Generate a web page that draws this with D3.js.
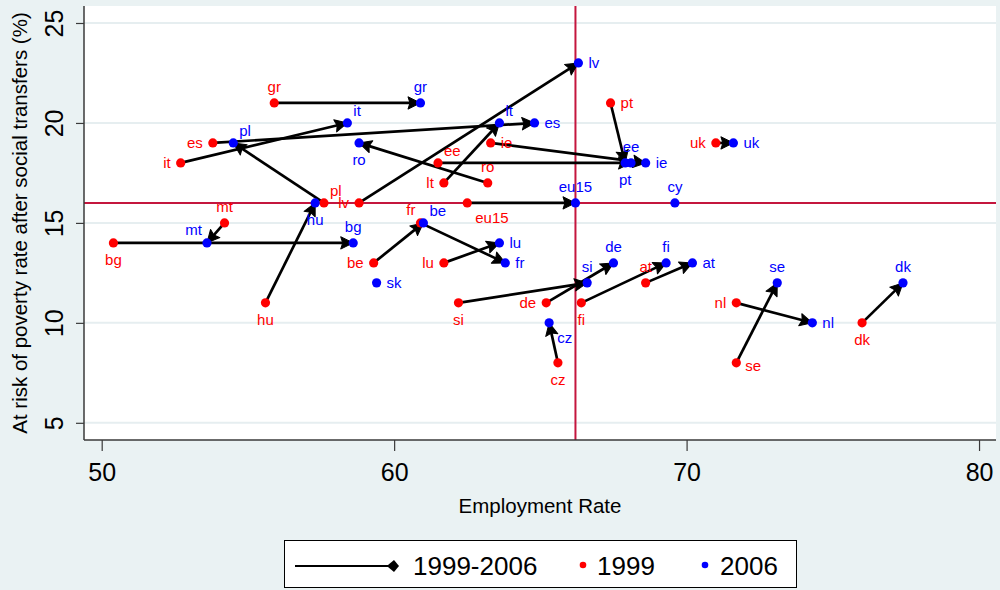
<!DOCTYPE html>
<html>
<head>
<meta charset="utf-8">
<script src="https://cdn.jsdelivr.net/npm/d3@7"></script>
<style>
  body { margin: 0; background: #eaf2f3; }
  svg { display: block; font-family: "Liberation Sans", Arial, sans-serif; }
</style>
</head>
<body>
<svg id="chart" width="1000" height="590"></svg>
<script>
// Country codes and values (employment rate, at-risk-of-poverty rate)
const countries = ["gr", "it", "es", "pl", "lv", "lt", "ro", "ee", "pt", "ie", "eu15", "cy", "hu", "mt",
  "bg", "sk", "be", "fr", "lu", "si", "de", "fi", "at", "cz", "uk", "nl", "se", "dk"];
const emp1999 = [55.9, 52.7, 53.8, 57.6, 58.8, 61.7, 63.2, 61.5, 67.4, 63.3, 62.5, null, 55.6, 54.2,
  50.4, null, 59.3, 60.9, 61.7, 62.2, 65.2, 66.4, 68.6, 65.6, 71.0, 71.7, 71.7, 76.0];
const pov1999 = [21, 18, 19, 16, 16, 17, 17, 18, 21, 19, 16, null, 11, 15,
  14, null, 13, 15, 13, 11, 11, 11, 12, 8, 19, 11, 8, 10];
const emp2006 = [60.9, 58.4, 64.8, 54.5, 66.3, 63.6, 58.8, 68.1, 67.9, 68.6, 66.2, 69.6, 57.3, 53.6,
  58.6, 59.4, 61.0, 63.8, 63.6, 66.6, 67.5, 69.3, 70.2, 65.3, 71.6, 74.3, 73.1, 77.4];
const pov2006 = [21, 20, 20, 19, 23, 20, 19, 18, 18, 18, 16, 16, 16, 14,
  14, 12, 15, 13, 14, 12, 13, 13, 13, 10, 19, 10, 12, 12];

// reference lines (EU15 2006)
const refEmp = 66.2;
const refPov = 16;

const xTicks = [50, 60, 70, 80];
const yTicks = [5, 10, 15, 20, 25];
const legendLabels = ["1999-2006", "1999", "2006"];

// label clock positions (Stata style)
const labelPos1999 = {gr: 12, it: 9, es: 9, pl: 1, lv: 9, lt: 9, ro: 12, ee: 1, pt: 3, ie: 3, eu15: 5,
  hu: 6, mt: 12, bg: 6, be: 9, fr: 11, lu: 9, si: 6, de: 9, fi: 6, at: 12, cz: 6, uk: 9, nl: 9, se: 4, dk: 6};
const labelPos2006 = {gr: 12, it: 1, es: 3, pl: 1, lv: 3, lt: 1, ro: 6, ee: 12, pt: 6, ie: 3, eu15: 12,
  cy: 12, hu: 6, mt: 11, bg: 12, sk: 3, be: 1, fr: 3, lu: 3, si: 12, de: 12, fi: 12, at: 3, cz: 5,
  uk: 3, nl: 3, se: 12, dk: 12};

const clock = {
  12: {dx: 0, dy: -10.5, anchor: "middle"},
  1: {dx: 6, dy: -7, anchor: "start"},
  11: {dx: -5, dy: -7.5, anchor: "end"},
  3: {dx: 10, dy: 5.5, anchor: "start"},
  9: {dx: -10, dy: 5.5, anchor: "end"},
  6: {dx: 0, dy: 22, anchor: "middle"},
  5: {dx: 8, dy: 20, anchor: "start"},
  4: {dx: 9, dy: 8, anchor: "start"}
};

const bgColor = "#eaf2f3";
const red = "#ff0000";
const blue = "#0000ff";
const refColor = "#c4163e";

const svg = d3.select("#chart");

const pLeft = 84, pRight = 996, pTop = 6, pBottom = 440;
const x = d3.scaleLinear().domain([49.395, 80.58]).range([pLeft, pRight]);
const y = d3.scaleLinear().domain([4.14, 25.85]).range([pBottom, pTop]);

// background + plot region
svg.append("rect").attr("width", 1000).attr("height", 590).attr("fill", bgColor);
svg.append("rect")
  .attr("x", pLeft).attr("y", pTop)
  .attr("width", pRight - pLeft).attr("height", pBottom - pTop)
  .attr("fill", "#ffffff");

// grid lines
svg.append("g")
  .selectAll("line")
  .data(yTicks)
  .join("line")
  .attr("x1", pLeft).attr("x2", pRight)
  .attr("y1", d => y(d)).attr("y2", d => y(d))
  .attr("stroke", "#e6eef0")
  .attr("stroke-width", 2);

// reference lines
svg.append("line")
  .attr("x1", pLeft).attr("x2", pRight)
  .attr("y1", y(refPov)).attr("y2", y(refPov))
  .attr("stroke", refColor).attr("stroke-width", 2);
svg.append("line")
  .attr("x1", x(refEmp)).attr("x2", x(refEmp))
  .attr("y1", pTop).attr("y2", pBottom)
  .attr("stroke", refColor).attr("stroke-width", 2);

// axes
const xAxis = svg.append("g")
  .attr("transform", `translate(0,${pBottom})`)
  .call(d3.axisBottom(x).tickValues(xTicks).tickSize(11).tickSizeOuter(0));
xAxis.selectAll(".tick line").attr("stroke", "#3a3a3a").attr("stroke-width", 1.2);
xAxis.selectAll(".tick text")
  .attr("y", 41).attr("dy", null)
  .attr("font-size", 25).attr("fill", "#000");

const yAxis = svg.append("g")
  .attr("transform", `translate(${pLeft},0)`)
  .call(d3.axisLeft(y).tickValues(yTicks).tickSize(8).tickSizeOuter(0));
yAxis.selectAll(".tick line").attr("stroke", "#3a3a3a").attr("stroke-width", 1.2);
yAxis.selectAll(".tick text")
  .attr("x", 0).attr("dy", null)
  .attr("transform", "translate(-21.5,0) rotate(-90)")
  .attr("text-anchor", "middle")
  .attr("font-size", 25).attr("fill", "#000");
svg.selectAll(".domain").remove();
// axis lines spanning the plot region
svg.append("line").attr("x1", pLeft).attr("x2", pRight).attr("y1", pBottom).attr("y2", pBottom)
  .attr("stroke", "#3a3a3a").attr("stroke-width", 1.5);
svg.append("line").attr("x1", pLeft).attr("x2", pLeft).attr("y1", pTop).attr("y2", pBottom)
  .attr("stroke", "#3a3a3a").attr("stroke-width", 1.5);

// axis titles
svg.append("text")
  .attr("x", (pLeft + pRight) / 2).attr("y", 513)
  .attr("text-anchor", "middle")
  .attr("font-size", 20.5)
  .text("Employment Rate");
svg.append("text")
  .attr("transform", `translate(27,${(pTop + pBottom) / 2}) rotate(-90)`)
  .attr("text-anchor", "middle")
  .attr("font-size", 20.5)
  .text("At risk of poverty rate after social transfers (%)");

// data rows
const rows = countries.map((c, i) => ({
  c, e99: emp1999[i], p99: pov1999[i], e06: emp2006[i], p06: pov2006[i]
}));
const pairs = rows.filter(d => d.e99 != null && d.e06 != null);

// arrowhead path: tip at (0,0) pointing along +x
const head = "M0,0 L-12.5,6.2 L-10.5,0 L-12.5,-6.2 Z";

const arrows = svg.append("g");
pairs.forEach(d => {
  const x1 = x(d.e99), y1 = y(d.p99), x2 = x(d.e06), y2 = y(d.p06);
  const ang = Math.atan2(y2 - y1, x2 - x1);
  const len = Math.hypot(x2 - x1, y2 - y1);
  const g = arrows.append("g")
    .attr("transform", `translate(${x1},${y1}) rotate(${ang * 180 / Math.PI})`);
  g.append("line")
    .attr("x1", 0).attr("y1", 0).attr("x2", len - 10).attr("y2", 0)
    .attr("stroke", "#000").attr("stroke-width", 2.7);
  g.append("path")
    .attr("d", head)
    .attr("transform", `translate(${len},0)`)
    .attr("fill", "#000").attr("stroke", "#000").attr("stroke-width", 1)
    .attr("stroke-linejoin", "round");
});

// points and labels
function drawYear(data, ex, py, posMap, color) {
  const g = svg.append("g");
  g.selectAll("circle")
    .data(data)
    .join("circle")
    .attr("cx", d => x(d[ex])).attr("cy", d => y(d[py]))
    .attr("r", 4.6)
    .attr("fill", color);
  g.selectAll("text")
    .data(data)
    .join("text")
    .attr("x", d => x(d[ex]) + clock[posMap[d.c]].dx)
    .attr("y", d => y(d[py]) + clock[posMap[d.c]].dy)
    .attr("text-anchor", d => clock[posMap[d.c]].anchor)
    .attr("font-size", 15)
    .attr("fill", color)
    .text(d => d.c);
}
drawYear(rows.filter(d => d.e99 != null), "e99", "p99", labelPos1999, red);
drawYear(rows.filter(d => d.e06 != null), "e06", "p06", labelPos2006, blue);

// legend
const lg = svg.append("g");
lg.append("rect")
  .attr("x", 284.5).attr("y", 540.5).attr("width", 512).attr("height", 47)
  .attr("fill", "#fff").attr("stroke", "#000").attr("stroke-width", 1);
lg.append("line")
  .attr("x1", 295).attr("x2", 390).attr("y1", 566).attr("y2", 566)
  .attr("stroke", "#000").attr("stroke-width", 2.2);
lg.append("path")
  .attr("d", "M0,0 L-5,6 L-11,1 L-11,-1 L-5,-6 Z")
  .attr("transform", "translate(399,566)")
  .attr("fill", "#000");
lg.append("circle").attr("cx", 583).attr("cy", 565).attr("r", 3.3).attr("fill", red);
lg.append("circle").attr("cx", 705).attr("cy", 565).attr("r", 3.3).attr("fill", blue);
const legX = [413, 597, 720];
lg.selectAll("text")
  .data(legendLabels)
  .join("text")
  .attr("x", (d, i) => legX[i])
  .attr("y", 575)
  .attr("font-size", 26)
  .text(d => d);
</script>
</body>
</html>
